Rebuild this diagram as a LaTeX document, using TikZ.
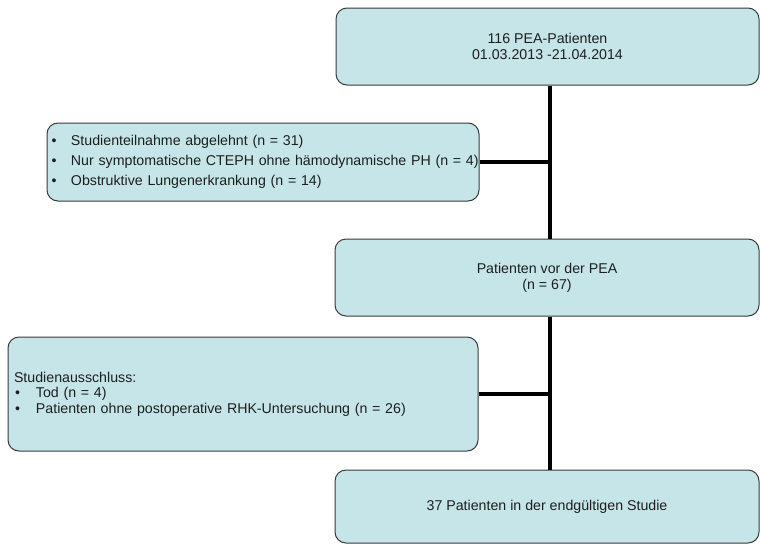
\documentclass[tikz,border=0pt]{standalone}
\usepackage{fontspec}
\setmainfont{Liberation Sans}
\usetikzlibrary{calc}
\definecolor{boxfill}{HTML}{C5E5E8}
\definecolor{boxline}{HTML}{3A3A3A}
\definecolor{txt}{HTML}{1E1E1E}
\begin{document}
\begin{tikzpicture}[x=1pt,y=-1pt,
  box/.style={draw=boxline, line width=1pt, fill=boxfill, rounded corners=11pt,
    inner sep=0pt, text=txt, font=\fontsize{14.2}{16}\selectfont},
  conn/.style={line width=3.5pt, black}]
\useasboundingbox (0,0) rectangle (762,544);
\node[box, minimum width=423pt, minimum height=77pt, align=center] (b1) at (547.5,46.5)
  {116 PEA-Patienten\\01.03.2013 -21.04.2014};
\node[box, minimum width=432pt, minimum height=78pt, align=left, text width=430pt,
      font=\fontsize{14.2}{20}\selectfont] (b2) at (263,162)
  {\mbox{\hspace*{3.5pt}\makebox[19.5pt][l]{•}Studienteilnahme abgelehnt (n = 31)}\\
   \mbox{\hspace*{3.5pt}\makebox[19.5pt][l]{•}Nur symptomatische CTEPH ohne hämodynamische PH (n = 4)}\\
   \mbox{\hspace*{3.5pt}\makebox[19.5pt][l]{•}Obstruktive Lungenerkrankung (n = 14)}};
\node[box, minimum width=424pt, minimum height=77pt, align=center] (b3) at (547,277.5)
  {Patienten vor der PEA\\(n = 67)};
\node[box, minimum width=470pt, minimum height=114pt, align=left, text width=458pt,
      font=\fontsize{14.2}{15.5}\selectfont] (b4) at (243,394)
  {\mbox{Studienausschluss:}\\
   \mbox{\hspace*{1pt}\makebox[21pt][l]{•}Tod (n = 4)}\\
   \mbox{\hspace*{1pt}\makebox[21pt][l]{•}Patienten ohne postoperative RHK-Untersuchung (n = 26)}};
\node[box, minimum width=424pt, minimum height=73pt, align=center] (b5) at (547,506.5)
  {37 Patienten in der endgültigen Studie};
\coordinate (trunk) at (550,0);
\draw[conn] (b1.south -| trunk) -- (b3.north -| trunk);
\draw[conn] (b3.south -| trunk) -- (b5.north -| trunk);
\draw[conn] (b2.east) -- (b2.east -| trunk);
\draw[conn] (b4.east) -- (b4.east -| trunk);
\end{tikzpicture}
\end{document}
